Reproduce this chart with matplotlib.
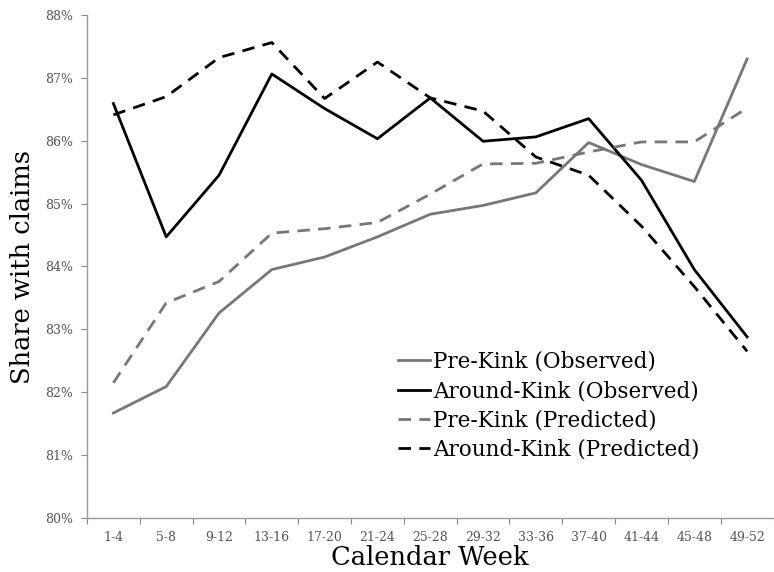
import matplotlib
matplotlib.use("Agg")
import matplotlib.pyplot as plt
from matplotlib.ticker import FixedLocator, FuncFormatter

weeks = ["1-4", "5-8", "9-12", "13-16", "17-20", "21-24", "25-28",
         "29-32", "33-36", "37-40", "41-44", "45-48", "49-52"]
pre_obs = [81.67, 82.09, 83.26, 83.95, 84.15, 84.47, 84.83,
           84.97, 85.17, 85.97, 85.62, 85.35, 87.30]
around_obs = [86.59, 84.47, 85.45, 87.06, 86.51, 86.03, 86.68,
              85.99, 86.06, 86.35, 85.37, 83.95, 82.88]
pre_pred = [82.15, 83.42, 83.76, 84.53, 84.60, 84.70, 85.15,
            85.63, 85.64, 85.82, 85.98, 85.98, 86.52]
around_pred = [86.41, 86.70, 87.32, 87.56, 86.67, 87.25, 86.68,
               86.47, 85.74, 85.45, 84.64, 83.68, 82.65]

plt.rcParams['font.family'] = ['DejaVu Serif']

fig = plt.figure(figsize=(7.74, 5.72), dpi=100)
ax = fig.add_axes([0.1124, 0.0944, 0.887, 0.8796])

x = list(range(len(weeks)))
gray = '#777777'
lw = 2.0
ax.plot(x, pre_obs, color=gray, lw=lw, label='Pre-Kink (Observed)')
ax.plot(x, around_obs, color='black', lw=lw, label='Around-Kink (Observed)')
ax.plot(x, pre_pred, color=gray, lw=lw, dashes=(4.5, 3), label='Pre-Kink (Predicted)')
ax.plot(x, around_pred, color='black', lw=lw, dashes=(4.5, 3), label='Around-Kink (Predicted)')

ax.set_xlim(-0.5, len(weeks) - 0.5)
ax.set_ylim(80, 88)
ax.set_yticks(range(80, 89))
ax.yaxis.set_major_formatter(FuncFormatter(lambda v, p: f"{int(round(v))}%"))

ax.xaxis.set_major_locator(FixedLocator([i - 0.5 for i in range(len(weeks) + 1)]))
ax.xaxis.set_major_formatter(FuncFormatter(lambda v, p: ""))
ax.xaxis.set_minor_locator(FixedLocator(x))
ax.set_xticklabels(weeks, minor=True)
ax.tick_params(axis='x', which='minor', length=0, pad=9, labelsize=9, labelcolor='#555555')
ax.tick_params(axis='x', which='major', length=4, color='#888888', direction='out')
ax.tick_params(axis='y', length=4, color='#888888', labelsize=9, labelcolor='#555555', pad=6)

for s in ['top', 'right']:
    ax.spines[s].set_visible(False)
for s in ['left', 'bottom']:
    ax.spines[s].set_color('#999999')
    ax.spines[s].set_linewidth(1.0)

ax.set_xlabel('Calendar Week', fontsize=18.5, labelpad=1)
ax.set_ylabel('Share with claims', fontsize=18.5, labelpad=7)

leg = ax.legend(loc='upper left', bbox_to_anchor=(0.453, 0.332), frameon=False,
                fontsize=15.5, handlelength=1.5, handletextpad=0.12,
                labelspacing=0.33, borderaxespad=0, borderpad=0)

fig.savefig('out.png', dpi=100)
